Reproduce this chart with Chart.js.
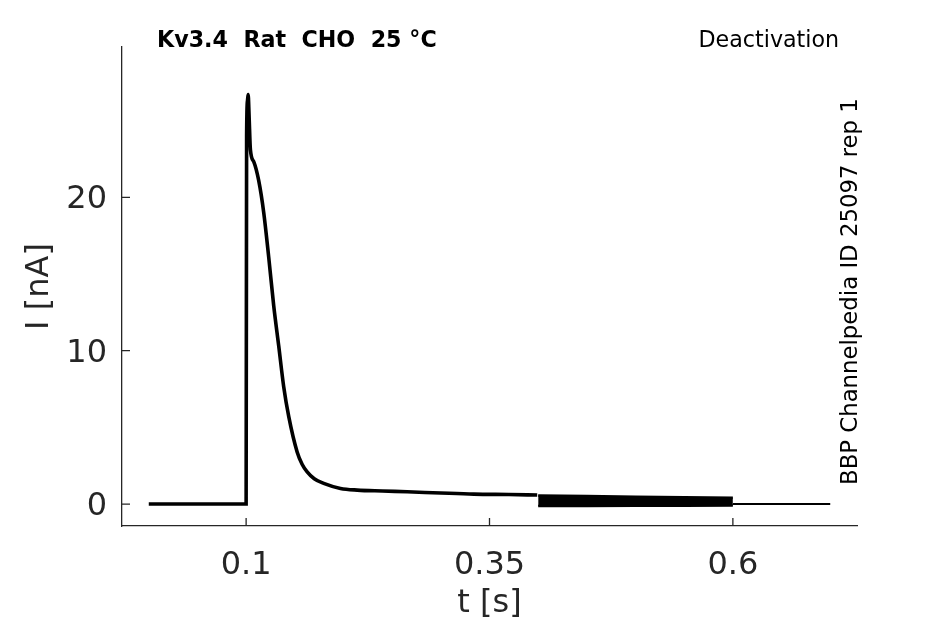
<!DOCTYPE html>
<html>
<head>
<meta charset="utf-8">
<script src="https://cdn.jsdelivr.net/npm/chart.js@4.4.0/dist/chart.umd.min.js"></script>
<style>
  html, body { margin: 0; padding: 0; background: #fff; }
  #wrap { width: 945px; height: 624px; }
</style>
</head>
<body>
<div id="wrap"><canvas id="traceChart" width="945" height="624"></canvas></div>
<script>
// main current trace, t in s, I in nA
const timeMain = [0, 0.0995, 0.1, 0.1005, 0.1014, 0.1021, 0.1030, 0.1044, 0.1080, 0.1129, 0.1181,
  0.1232, 0.1284, 0.1335, 0.1386, 0.1438, 0.1524, 0.1575, 0.1627, 0.1700, 0.1797, 0.1969,
  0.2141, 0.2400, 0.2654, 0.3000, 0.3339, 0.3700, 0.3990];
const currentMain = [0, 0, 0, 24.0, 26.3, 26.7, 25.4, 23.1, 22.3, 21.1, 19.0,
  16.1, 12.9, 10.3, 7.65, 5.7, 3.4, 2.6, 2.1, 1.65, 1.35, 1.02,
  0.91, 0.85, 0.80, 0.72, 0.65, 0.62, 0.59];

// overlapping tail currents between 0.4 and 0.6 s
const timeBand = [0.4, 0.45, 0.5, 0.55, 0.6];
const bandUpper = [0.56, 0.52, 0.48, 0.45, 0.42];
const bandLower = [-0.12, -0.12, -0.11, -0.11, -0.1];

// after the tail step
const timeTail = [0.6, 0.7];
const currentTail = [0, 0];

const xTicks = [0.1, 0.35, 0.6];
const yTicks = [0, 10, 20];

const axisColor = '#262626';

function toPoints(xs, ys) {
  return xs.map((x, i) => ({ x: x, y: ys[i] }));
}

const decorations = {
  id: 'decorations',
  afterDraw(chart) {
    const ctx = chart.ctx;
    const area = chart.chartArea;
    const sx = chart.scales.x;
    const sy = chart.scales.y;

    ctx.save();
    // inward tick marks
    ctx.strokeStyle = axisColor;
    ctx.lineWidth = 1.3;
    ctx.beginPath();
    xTicks.forEach(v => {
      const px = sx.getPixelForValue(v);
      ctx.moveTo(px, area.bottom);
      ctx.lineTo(px, area.bottom - 8);
    });
    yTicks.forEach(v => {
      const py = sy.getPixelForValue(v);
      ctx.moveTo(area.left, py);
      ctx.lineTo(area.left + 8, py);
    });
    ctx.stroke();

    // title and notes
    ctx.fillStyle = '#000';
    ctx.textBaseline = 'alphabetic';
    ctx.textAlign = 'left';
    ctx.font = 'bold 22.2px "DejaVu Sans"';
    ctx.fillText('Kv3.4  Rat  CHO  25 °C', 157, 47);
    ctx.font = '22.2px "DejaVu Sans"';
    ctx.fillText('Deactivation', 698.5, 47);

    ctx.save();
    ctx.font = '22.8px "DejaVu Sans"';
    ctx.translate(857, 485);
    ctx.rotate(-Math.PI / 2);
    ctx.fillText('BBP Channelpedia ID 25097 rep 1', 0, 0);
    ctx.restore();

    // axis titles
    ctx.fillStyle = axisColor;
    ctx.font = '32px "DejaVu Sans"';
    ctx.textAlign = 'center';
    ctx.textBaseline = 'middle';
    ctx.fillText('t [s]', (area.left + area.right) / 2, 604);
    ctx.save();
    ctx.translate(40, (area.top + area.bottom) / 2);
    ctx.rotate(-Math.PI / 2);
    ctx.fillText('I [nA]', 0, 0);
    ctx.restore();

    ctx.restore();
  }
};

const lineStyle = {
  showLine: true,
  borderColor: '#000',
  pointRadius: 0,
  tension: 0,
  fill: false
};

new Chart(document.getElementById('traceChart').getContext('2d'), {
  type: 'scatter',
  data: {
    datasets: [
      Object.assign({}, lineStyle, { data: toPoints(timeMain, currentMain), borderWidth: 3.6,
        cubicInterpolationMode: 'monotone' }),
      Object.assign({}, lineStyle, { data: toPoints(timeBand, bandUpper), borderWidth: 2.5 }),
      Object.assign({}, lineStyle, { data: toPoints(timeBand, bandLower), borderWidth: 2.5,
        fill: '-1', backgroundColor: '#000' }),
      Object.assign({}, lineStyle, { data: toPoints(timeTail, currentTail), borderWidth: 2 })
    ]
  },
  options: {
    responsive: false,
    animation: false,
    devicePixelRatio: 1,
    layout: { padding: { left: 0, top: 47, right: 88, bottom: 0 } },
    plugins: { legend: { display: false }, tooltip: { enabled: false } },
    scales: {
      x: {
        type: 'linear',
        min: -0.0275,
        max: 0.7275,
        grid: { display: false, drawTicks: false },
        border: { display: true, color: axisColor, width: 1.3 },
        afterBuildTicks: scale => { scale.ticks = xTicks.map(v => ({ value: v })); },
        afterFit: scale => { scale.height = 98; },
        ticks: {
          padding: 20,
          color: axisColor,
          font: { family: 'DejaVu Sans', size: 32 },
          maxRotation: 0,
          callback: v => String(v)
        }
      },
      y: {
        type: 'linear',
        min: -1.43,
        max: 29.8,
        grid: { display: false, drawTicks: false },
        border: { display: true, color: axisColor, width: 1.3 },
        afterBuildTicks: scale => { scale.ticks = yTicks.map(v => ({ value: v })); },
        afterFit: scale => { scale.width = 122; },
        ticks: {
          padding: 15,
          labelOffset: 2.5,
          color: axisColor,
          font: { family: 'DejaVu Sans', size: 32 },
          callback: v => String(v)
        }
      }
    }
  },
  plugins: [decorations]
});
</script>
</body>
</html>
